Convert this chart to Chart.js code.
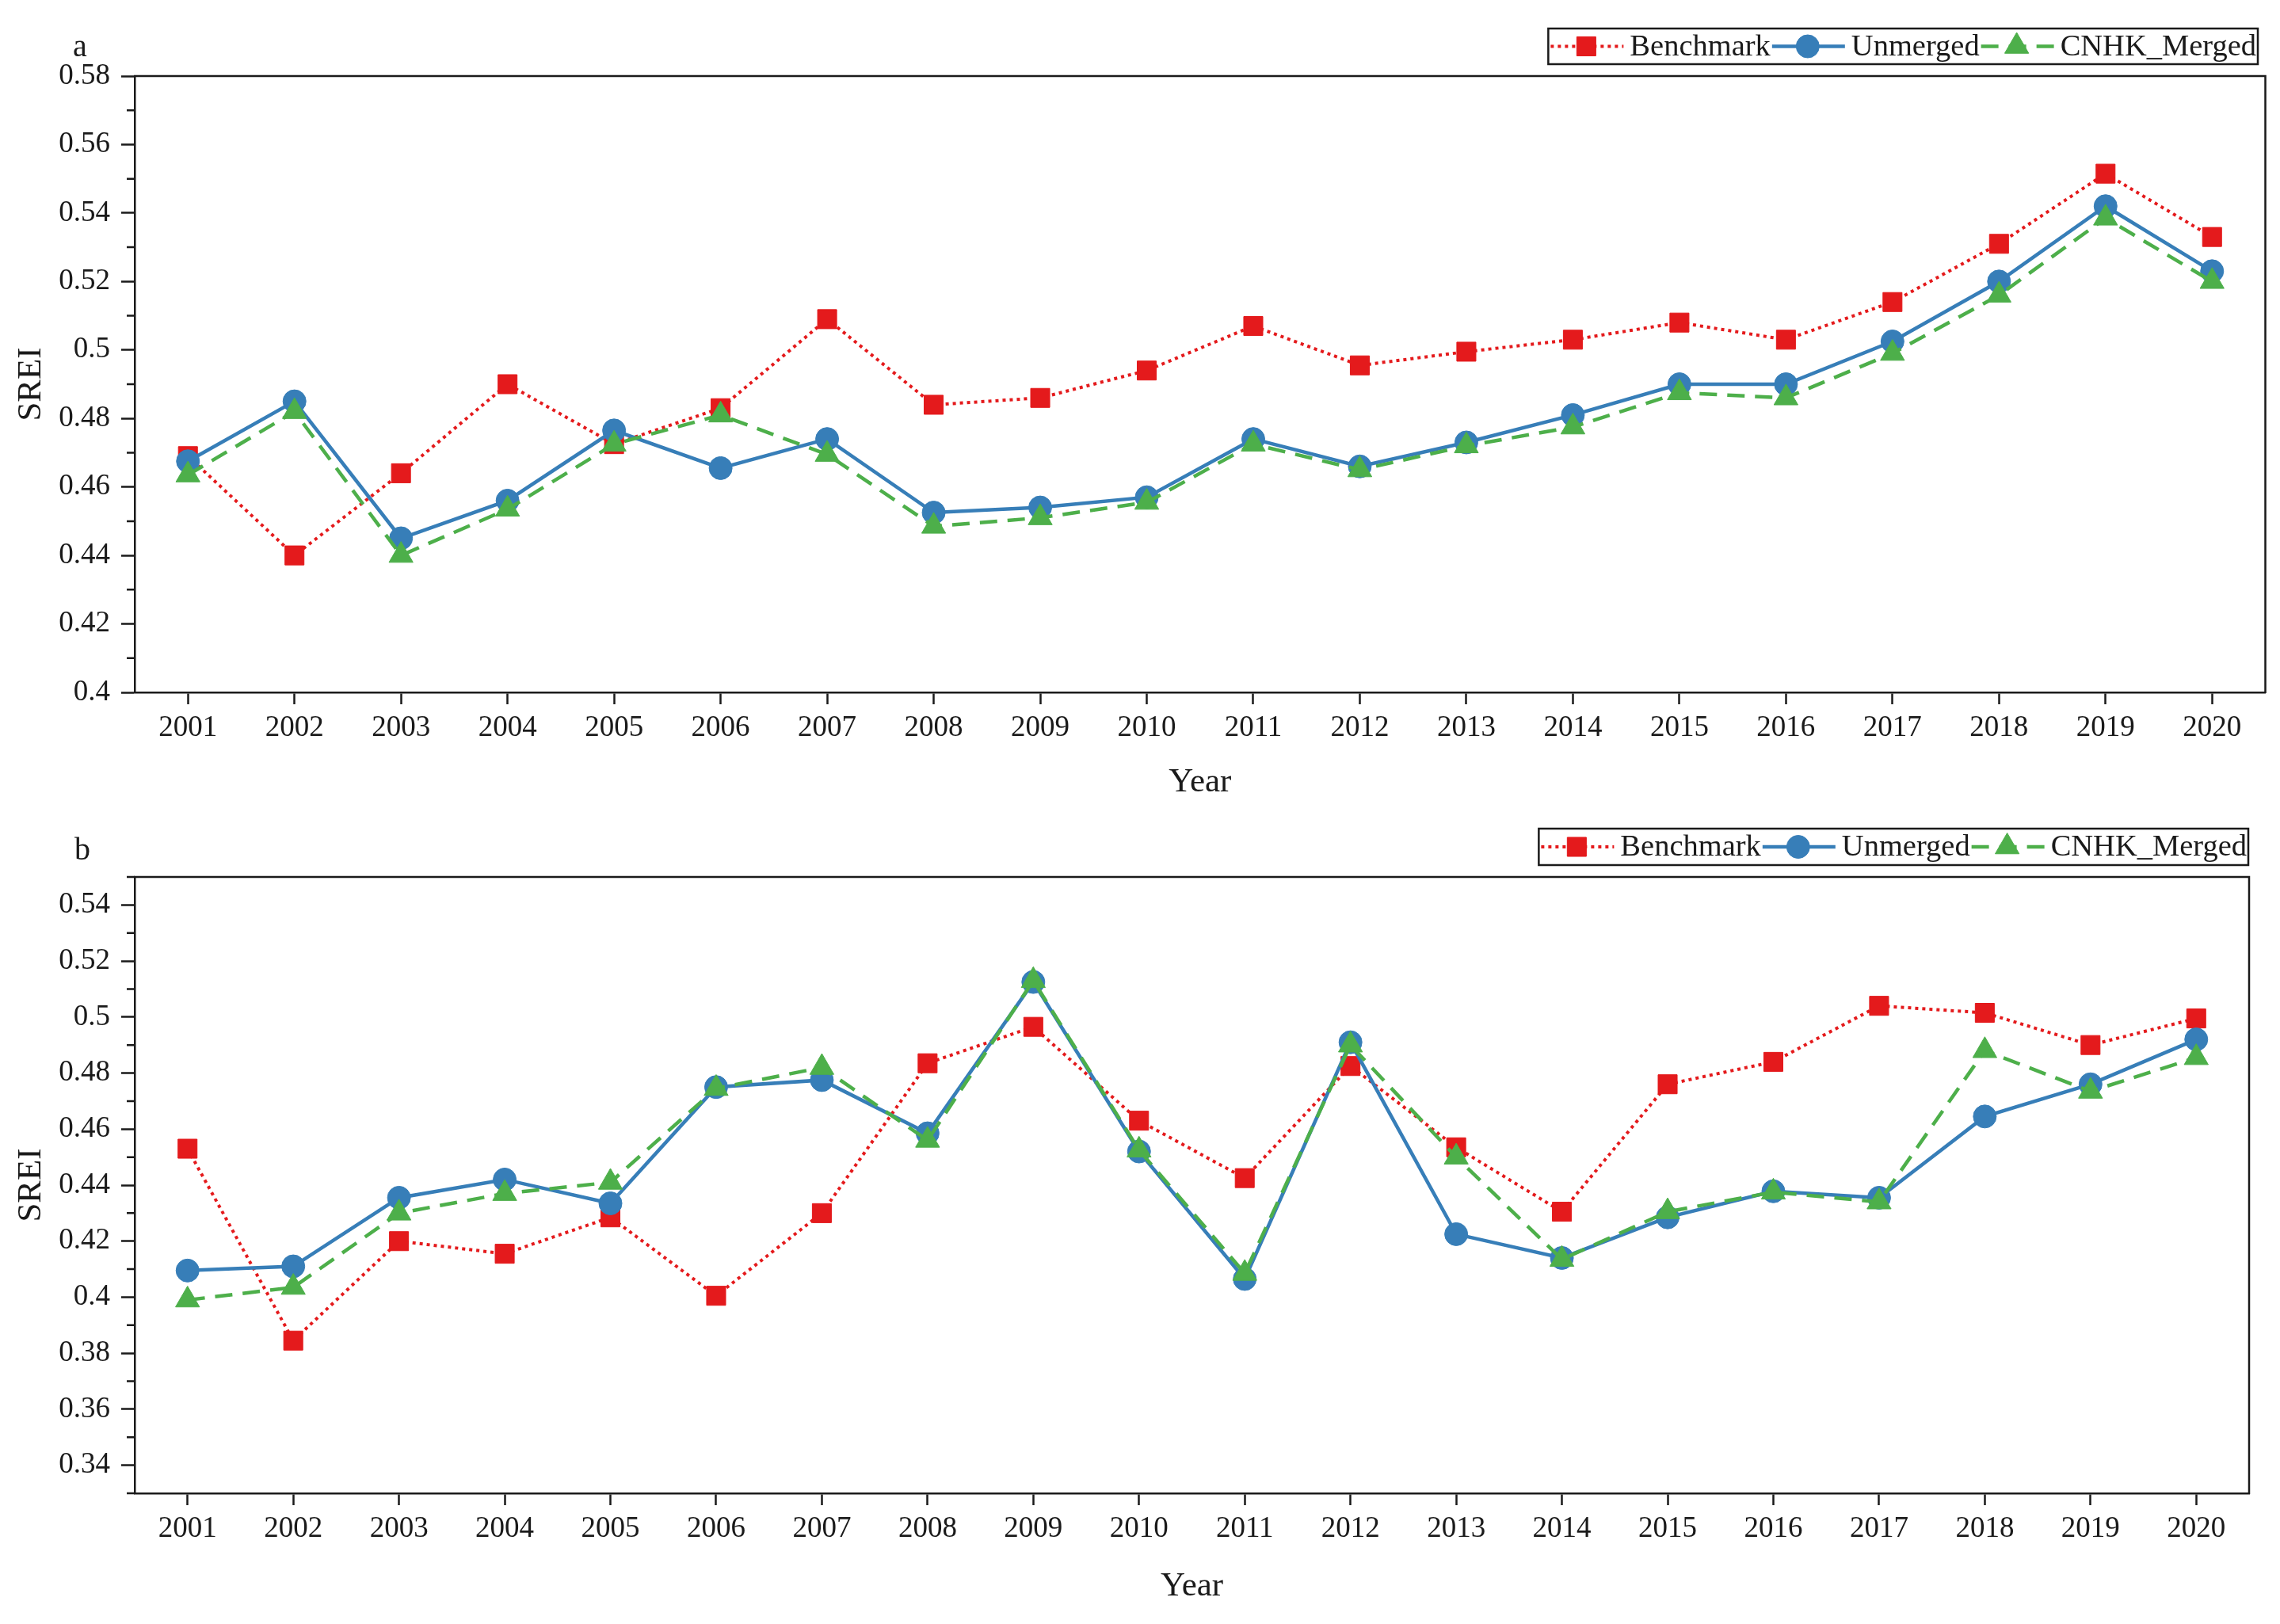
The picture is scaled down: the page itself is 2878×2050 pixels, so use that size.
<!DOCTYPE html>
<html>
<head>
<meta charset="utf-8">
<script src="https://cdn.jsdelivr.net/npm/chart.js@4.4.1/dist/chart.umd.min.js"></script>
<style>
  html, body { margin: 0; padding: 0; background: #fff; }
  .panel { position: relative; width: 2878px; height: 1025px; }
</style>
</head>
<body>
<div class="panel"><canvas id="chartA"></canvas></div>
<div class="panel"><canvas id="chartB"></canvas></div>
<script>
// values (SREI per year)

var years = ['2001', '2002', '2003', '2004', '2005', '2006', '2007', '2008', '2009', '2010',
             '2011', '2012', '2013', '2014', '2015', '2016', '2017', '2018', '2019', '2020'];

var seriesNames = ['Benchmark', 'Unmerged', 'CNHK_Merged'];

// panel a
var benchmarkA = [0.469, 0.440, 0.464, 0.490, 0.4725, 0.483, 0.509, 0.484, 0.486, 0.494,
                  0.507, 0.4955, 0.4995, 0.503, 0.508, 0.503, 0.514, 0.531, 0.5515, 0.533];
var unmergedA  = [0.4675, 0.485, 0.445, 0.456, 0.4765, 0.4655, 0.474, 0.4525, 0.454, 0.457,
                  0.474, 0.466, 0.473, 0.481, 0.490, 0.490, 0.5025, 0.520, 0.542, 0.523];
var mergedA    = [0.4635, 0.482, 0.440, 0.4535, 0.4725, 0.481, 0.4695, 0.4485, 0.451, 0.4555,
                  0.4725, 0.465, 0.472, 0.4775, 0.4875, 0.486, 0.499, 0.516, 0.5385, 0.520];
var yTicksA = [0.40, 0.42, 0.44, 0.46, 0.48, 0.50, 0.52, 0.54, 0.56, 0.58];

// panel b
var benchmarkB = [0.453, 0.3845, 0.420, 0.4155, 0.4285, 0.4005, 0.430, 0.4835, 0.4965, 0.463,
                  0.4425, 0.4825, 0.4535, 0.4305, 0.476, 0.484, 0.504, 0.5015, 0.490, 0.4995];
var unmergedB  = [0.4095, 0.411, 0.4355, 0.442, 0.4335, 0.475, 0.4775, 0.4585, 0.5125, 0.452,
                  0.4065, 0.491, 0.4225, 0.414, 0.4285, 0.4378, 0.4355, 0.4645, 0.476, 0.492];
var mergedB    = [0.399, 0.4035, 0.430, 0.437, 0.441, 0.4745, 0.482, 0.456, 0.513, 0.4525,
                  0.4085, 0.490, 0.450, 0.4135, 0.4305, 0.4375, 0.434, 0.488, 0.4735, 0.4855];
var yTicksB = [0.34, 0.36, 0.38, 0.40, 0.42, 0.44, 0.46, 0.48, 0.50, 0.52, 0.54];

var serif = "'Liberation Serif', 'Times New Roman', serif";
var ink = '#1a1a1a';

// box round the plot, minor y ticks, panel letter and the Origin-style legend
var framePlugin = {
  id: 'frame',
  afterDraw: function (chart, args, o) {
    var ctx = chart.ctx, a = chart.chartArea, ys = chart.scales.y;
    ctx.save();
    ctx.strokeStyle = ink;
    ctx.lineWidth = 2.5;
    ctx.beginPath();
    ctx.moveTo(a.left - 1, a.top);
    ctx.lineTo(a.right, a.top);
    ctx.lineTo(a.right, a.bottom + 1);
    ctx.stroke();

    // minor ticks halfway between the labelled ones
    ctx.beginPath();
    for (var k = Math.round(ys.min * 100); k <= Math.round(ys.max * 100); k++) {
      var v = k / 100;
      var isMajor = ys.ticks.some(function (t) { return Math.abs(t.value - v) < 1e-6; });
      if (isMajor) continue;
      var py = ys.getPixelForValue(v);
      ctx.moveTo(a.left - 10, py);
      ctx.lineTo(a.left, py);
    }
    ctx.stroke();

    ctx.fillStyle = ink;
    ctx.font = '40px ' + serif;
    ctx.textAlign = 'left';
    ctx.textBaseline = 'alphabetic';
    ctx.fillText(o.label, o.labelX, o.labelY);

    // legend
    ctx.font = '38.5px ' + serif;
    var sample = 94, gap = 8;
    var items = chart.data.datasets.map(function (ds) {
      return { ds: ds, w: ctx.measureText(ds.label).width };
    });
    var total = items.reduce(function (s, it) { return s + sample + gap + it.w; }, 0);
    var x = o.legendRight - total;
    var cy = (o.legendTop + o.legendBottom) / 2;
    ctx.lineWidth = 2.5;
    ctx.strokeStyle = ink;
    ctx.strokeRect(x - 1, o.legendTop, total + 3, o.legendBottom - o.legendTop);

    items.forEach(function (it) {
      var ds = it.ds;
      ctx.save();
      ctx.strokeStyle = ds.borderColor;
      ctx.lineWidth = ds.borderWidth;
      ctx.setLineDash(ds.borderDash || []);
      ctx.beginPath();
      ctx.moveTo(x + 2, cy);
      ctx.lineTo(x + sample, cy);
      ctx.stroke();
      ctx.restore();

      ctx.fillStyle = ds.pointBackgroundColor;
      ctx.strokeStyle = ds.pointBorderColor;
      ctx.lineWidth = ds.pointBorderWidth;
      Chart.helpers.drawPoint(ctx, {
        pointStyle: ds.pointStyle, radius: ds.pointRadius, rotation: 0, borderWidth: ds.pointBorderWidth
      }, x + sample / 2, cy);

      ctx.fillStyle = ink;
      ctx.textBaseline = 'middle';
      ctx.fillText(ds.label, x + sample + gap, cy + 1);
      x += sample + gap + it.w;
    });
    ctx.restore();
  }
};

function makeDatasets(bench, unmerged, merged) {
  return [
    { label: seriesNames[0], data: bench, order: 3,
      borderColor: '#E41A1C', backgroundColor: '#E41A1C', borderWidth: 4, borderDash: [4, 5],
      pointStyle: 'rect', pointRadius: 17, pointBackgroundColor: '#E41A1C',
      pointBorderColor: '#E41A1C', pointBorderWidth: 1, tension: 0 },
    { label: seriesNames[1], data: unmerged, order: 2,
      borderColor: '#377EB8', backgroundColor: '#377EB8', borderWidth: 4.5,
      pointStyle: 'circle', pointRadius: 14.5, pointBackgroundColor: '#377EB8',
      pointBorderColor: '#377EB8', pointBorderWidth: 1, tension: 0 },
    { label: seriesNames[2], data: merged, order: 1,
      borderColor: '#4DAF4A', backgroundColor: '#4DAF4A', borderWidth: 4.5, borderDash: [22, 13],
      pointStyle: 'triangle', pointRadius: 17.5, pointBackgroundColor: '#4DAF4A',
      pointBorderColor: '#4DAF4A', pointBorderWidth: 1, tension: 0 }
  ];
}

function makeChart(id, datasets, yMin, yMax, yTicks, lay) {
  return new Chart(document.getElementById(id), {
    type: 'line',
    data: { labels: years, datasets: datasets },
    plugins: [framePlugin],
    options: {
      responsive: true,
      maintainAspectRatio: false,
      devicePixelRatio: 1,
      animation: false,
      layout: { padding: { top: lay.top, right: lay.right, left: 0, bottom: 0 } },
      plugins: {
        legend: { display: false },
        tooltip: { enabled: false },
        frame: lay.frame
      },
      scales: {
        x: {
          type: 'category',
          offset: true,
          grid: { drawOnChartArea: false, drawTicks: true, tickLength: 15, tickWidth: 2.5, tickColor: ink, offset: false },
          border: { color: ink, width: 2.5 },
          ticks: { font: { family: serif, size: 37 }, color: ink, padding: 8, maxRotation: 0, autoSkip: false },
          title: { display: true, text: 'Year', color: ink, font: { family: serif, size: 43 },
                   padding: { top: 0, bottom: lay.xTitleBottom } },
          afterFit: function (s) { s.height = lay.xHeight; }
        },
        y: {
          min: yMin,
          max: yMax,
          afterBuildTicks: function (s) { s.ticks = yTicks.map(function (v) { return { value: v }; }); },
          grid: { drawOnChartArea: false, drawTicks: true, tickLength: 17, tickWidth: 2.5, tickColor: ink },
          border: { color: ink, width: 2.5 },
          ticks: { font: { family: serif, size: 37 }, color: ink, padding: 14,
                   callback: function (v) { return String(parseFloat(Number(v).toFixed(2))); } },
          title: { display: true, text: 'SREI', color: ink, font: { family: serif, size: 43 },
                   padding: { top: 14, bottom: 0 } },
          afterFit: function (s) { s.width = lay.yWidth; }
        }
      }
    }
  });
}

var chartA = makeChart('chartA', makeDatasets(benchmarkA, unmergedA, mergedA), 0.40, 0.58, yTicksA, {
  top: 96, right: 18, xHeight: 151, xTitleBottom: 11, yWidth: 170,
  frame: { label: 'a', labelX: 92, labelY: 71, legendRight: 2848, legendTop: 36, legendBottom: 81 }
});

var chartB = makeChart('chartB', makeDatasets(benchmarkB, unmergedB, mergedB), 0.33, 0.55, yTicksB, {
  top: 82, right: 39, xHeight: 165, xTitleBottom: 21, yWidth: 170,
  frame: { label: 'b', labelX: 94, labelY: 60, legendRight: 2836, legendTop: 21, legendBottom: 67 }
});
</script>
</body>
</html>
